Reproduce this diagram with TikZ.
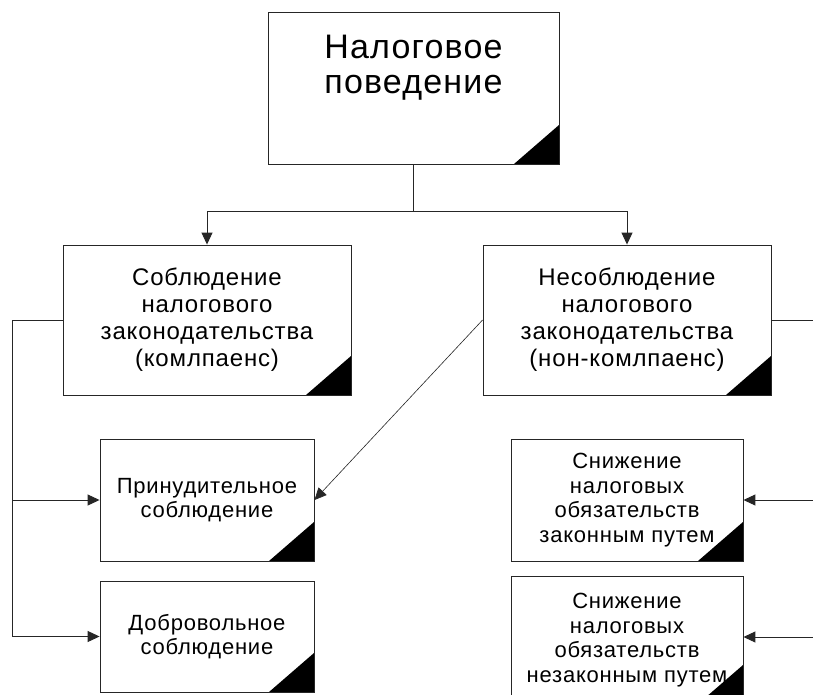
\documentclass[tikz,border=0pt]{standalone}
\usepackage{fontspec}
\setmainfont[LetterSpace=3.5]{Liberation Sans}
\usetikzlibrary{arrows.meta}
\begin{document}
\begin{tikzpicture}[x=1pt,y=-1pt,
  box/.style={draw=black!85, line width=0.9pt, fill=white, align=center, inner sep=0pt,
    path picture={\fill[black] (path picture bounding box.south east) -- ++(-45pt,0pt) -- ++(45pt,39pt) -- cycle;}},
  topfont/.style={font=\fontsize{34}{35}\selectfont},
  midfont/.style={font=\fontsize{24}{27}\selectfont},
  lowfont/.style={font=\fontsize{22}{24.5}\selectfont},
  conn/.style={draw=black!85, line width=1pt},
  arr/.style={conn, -{Triangle[length=12pt,width=11pt]}},
  thinarr/.style={draw=black!85, line width=0.6pt, -{Triangle[length=12pt,width=11pt]}}]
\clip (0,0) rectangle (813,695);
\fill[white] (0,0) rectangle (813,695);

% boxes
\node[box, minimum width=291pt, minimum height=152pt] (top) at (413.5,88) {};
\node[topfont, align=center, inner sep=0pt] (toplbl) at (413.5,68) {Налоговое\\поведение};

\node[box, midfont, minimum width=288pt, minimum height=150pt] (mL) at (207,320)
  {Соблюдение\\налогового\\законодательства\\(комлпаенс)};
\node[box, midfont, minimum width=288pt, minimum height=150pt] (mR) at (627,320)
  {Несоблюдение\\налогового\\законодательства\\(нон-комлпаенс)};

\node[box, lowfont, minimum width=214pt, minimum height=122pt] (lA) at (207,500)
  {Принудительное\\соблюдение};
\node[box, lowfont, minimum width=214pt, minimum height=111pt] (lB) at (207,636.5)
  {Добровольное\\соблюдение};

\node[box, lowfont, minimum width=232pt, minimum height=122pt] (rA) at (627,500)
  {Снижение\\налоговых\\обязательств\\законным путем};
\node[box, lowfont, minimum width=232pt, minimum height=128pt] (rB) at (627,640)
  {Снижение\\налоговых\\обязательств\\незаконным путем};

% connectors
\draw[conn] (top.south) -- ++(0,47) coordinate (j);
\draw[arr] (j) -| (mL.north);
\draw[arr] (j) -| (mR.north);

\coordinate (bend) at (12,320);
\draw[arr] (mL.west) -- (bend) |- (lA.west);
\draw[arr] (bend) |- (lB.west);

\coordinate (redge) at (813,320);
\draw[conn] (mR.east) -- (redge);
\coordinate (rAin) at (813,500);
\coordinate (rBin) at (813,637);
\draw[arr] (rAin) -- (rA.east);
\draw[arr] (rBin) -- (rBin -| rB.east);

\draw[thinarr] (mR.west) -- (lA.east);
\end{tikzpicture}
\end{document}
